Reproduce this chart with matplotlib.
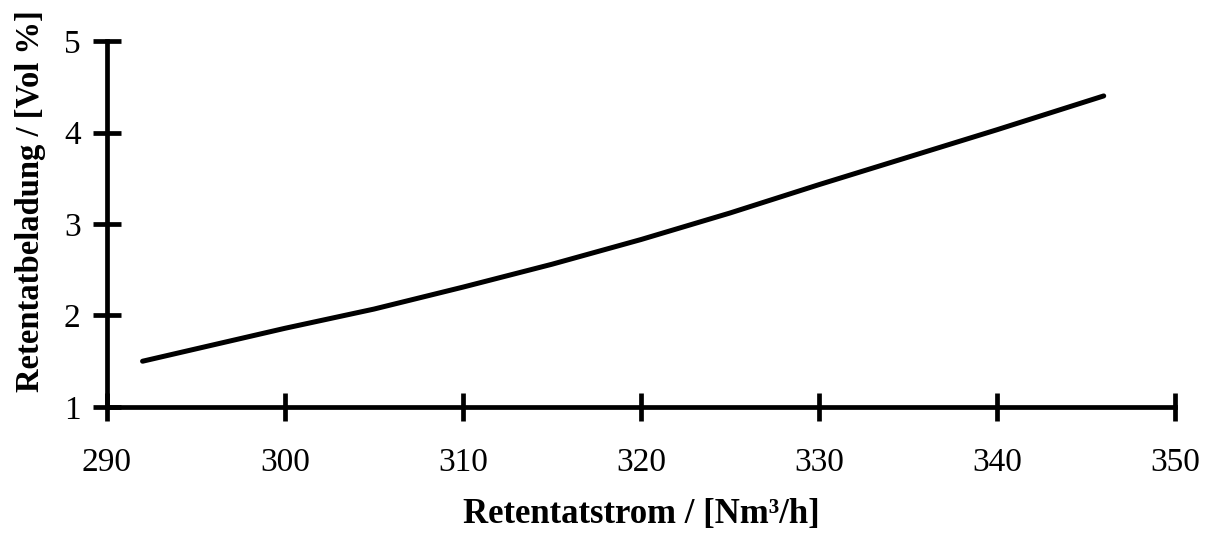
import matplotlib.pyplot as plt

# Retentatstrom vs. Retentatbeladung
retentatstrom = [292, 300, 305, 310, 315, 320, 325, 330, 335, 340, 346]
retentatbeladung = [1.50, 1.86, 2.07, 2.31, 2.56, 2.83, 3.12, 3.43, 3.73, 4.03, 4.40]

x_ticks = [290, 300, 310, 320, 330, 340, 350]
y_ticks = [1, 2, 3, 4, 5]

plt.rcParams["font.family"] = ["Liberation Serif", "DejaVu Serif"]

fig = plt.figure(figsize=(12.1, 5.47), dpi=100)
ax = fig.add_axes([0.0884, 0.256, 0.8826, 0.669])

ax.plot(retentatstrom, retentatbeladung, color="black", linewidth=3.6,
        solid_capstyle="round")

ax.set_xlim(290, 350)
ax.set_ylim(1, 5)
ax.set_xticks(x_ticks)
ax.set_yticks(y_ticks)

for side in ["top", "right"]:
    ax.spines[side].set_visible(False)
for side in ["left", "bottom"]:
    ax.spines[side].set_linewidth(3.4)

ax.tick_params(axis="both", direction="inout", length=20, width=3.4,
               labelsize=24)
ax.tick_params(axis="x", pad=19)
ax.tick_params(axis="y", pad=9)

ax.set_xlabel("Retentatstrom / [Nm³/h]", fontsize=25, fontweight="bold",
              va="center")
ax.xaxis.set_label_coords(0.5, -0.295)
ax.set_ylabel("Retentatbeladung / [Vol %]", fontsize=23.5, fontweight="bold",
              va="center")
ax.yaxis.set_label_coords(-0.072, 0.562)

fig.savefig("out.png", dpi=100)
